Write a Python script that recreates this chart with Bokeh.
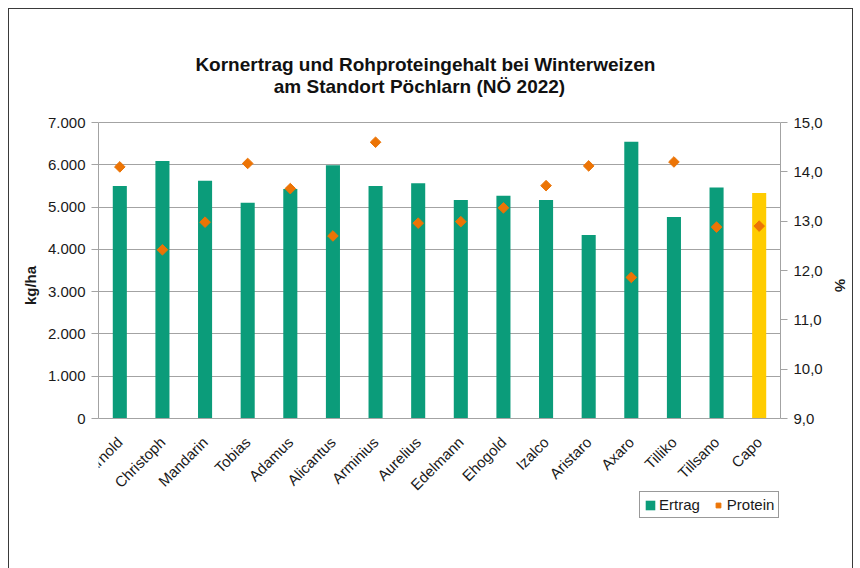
import numpy as np
from bokeh.plotting import figure
from bokeh.models import (ColumnDataSource, Range1d, LinearAxis, FixedTicker,
                          Legend, LegendItem, FactorRange, Label)
from bokeh.embed import file_html
from bokeh.resources import INLINE

# ---- data -------------------------------------------------------------
sorten = ["Arnold", "Christoph", "Mandarin", "Tobias", "Adamus", "Alicantus",
          "Arminius", "Aurelius", "Edelmann", "Ehogold", "Izalco", "Aristaro",
          "Axaro", "Tilliko", "Tillsano", "Capo"]
ertrag = [5500, 6090, 5625, 5100, 5430, 5990, 5500, 5565, 5165, 5265, 5165,
          4340, 6545, 4765, 5460, 5335]
protein = [14.10, 12.42, 12.98, 14.17, 13.66, 12.70, 14.60, 12.96, 12.99,
           13.27, 13.72, 14.12, 11.86, 14.20, 12.88, 12.90]
bar_colors = ["#0B9C7A"] * 15 + ["#FFCC00"]

left_ticks = [0, 1000, 2000, 3000, 4000, 5000, 6000, 7000]
left_labels = ["0", "1.000", "2.000", "3.000", "4.000", "5.000", "6.000", "7.000"]
right_ticks = [9, 10, 11, 12, 13, 14, 15]
right_labels = ["9,0", "10,0", "11,0", "12,0", "13,0", "14,0", "15,0"]

title1 = "Kornertrag und Rohproteingehalt bei Winterweizen"
title2 = "am Standort Pöchlarn (NÖ 2022)"

FONT = "Liberation Sans"
TXT = "#1a1a1a"
GRID = "#a3a3a3"

# ---- layout (pixels) ---------------------------------------------------
PLOT_H = 296      # height of the value area (0 .. 7000)
PAD_TOP = 82      # room above the value area (title)
PAD_BOT = 112     # room below the value area (category labels, legend)
FRAME_W = 682

L0, L1 = left_ticks[0], left_ticks[-1]
R0, R1 = right_ticks[0], right_ticks[-1]
lpp = (L1 - L0) / PLOT_H          # left units per pixel
rpp = (R1 - R0) / PLOT_H          # right units per pixel


def y_at(px_above_top):
    """left-axis value at a given pixel distance above the 7.000 line"""
    return L1 + px_above_top * lpp


src = ColumnDataSource(dict(sorte=sorten, ertrag=ertrag, protein=protein,
                            color=bar_colors))

p = figure(width=843, height=559, frame_width=FRAME_W,
           frame_height=PLOT_H + PAD_TOP + PAD_BOT,
           output_backend="svg", toolbar_location=None,
           x_range=FactorRange(factors=sorten),
           y_range=Range1d(L0 - PAD_BOT * lpp, L1 + PAD_TOP * lpp),
           min_border_left=89, min_border_right=72,
           min_border_top=31, min_border_bottom=38,
           outline_line_color=None)
p.styles = {"border": "1px solid #3a3a3a", "margin-left": "8px",
            "margin-top": "8px"}
p.extra_y_ranges = {"prot": Range1d(R0 - PAD_BOT * rpp, R1 + PAD_TOP * rpp)}

bars = p.vbar(x="sorte", top="ertrag", width=0.33, color="color",
              line_color=None, source=src)
pts = p.scatter(x="sorte", y="protein", y_range_name="prot", marker="square",
                angle=np.pi / 4, size=7.5, color="#EC7405", source=src)

# grid
p.xgrid.grid_line_color = None
p.ygrid.ticker = FixedTicker(ticks=left_ticks)
p.ygrid.grid_line_color = GRID

# left axis
ya = p.yaxis[0]
ya.ticker = FixedTicker(ticks=left_ticks)
ya.bounds = (L0, L1)
ya.major_label_overrides = {t: l for t, l in zip(left_ticks, left_labels)}
ya.axis_label = "kg/ha"

# right axis
ra = LinearAxis(y_range_name="prot", ticker=FixedTicker(ticks=right_ticks),
                axis_label="%", bounds=(R0, R1))
ra.major_label_overrides = {t: l for t, l in zip(right_ticks, right_labels)}
p.add_layout(ra, "right")

for ax in (ya, ra):
    ax.axis_line_color = GRID
    ax.major_tick_line_color = GRID
    ax.major_tick_out = 7
    ax.major_tick_in = 0
    ax.minor_tick_line_color = None
    ax.major_label_standoff = 6
    ax.major_label_text_font = FONT
    ax.major_label_text_font_size = "15px"
    ax.major_label_text_color = TXT
    ax.axis_label_text_font = FONT
    ax.axis_label_text_font_size = "15px"
    ax.axis_label_text_font_style = "bold"
    ax.axis_label_text_color = TXT
    ax.axis_label_standoff = 6

# category axis sits on the 0 line
xa = p.xaxis[0]
xa.fixed_location = L0
xa.axis_line_color = GRID
xa.major_tick_line_color = None
xa.minor_tick_line_color = None
xa.major_label_orientation = np.pi / 4
xa.major_label_standoff = 15
xa.major_label_text_font = FONT
xa.major_label_text_font_size = "15px"
xa.major_label_text_color = TXT

# title, two lines
for txt, xc, dy in ((title1, 7.67, 58.5), (title2, 7.53, 36.5)):
    p.add_layout(Label(x=xc, y=y_at(dy), text=txt, text_align="center",
                       text_baseline="middle", text_font=FONT,
                       text_font_size="19px", text_font_style="bold",
                       text_color="#111111"))

# legend below the category labels, right aligned
legend = Legend(items=[LegendItem(label="Ertrag", renderers=[bars], index=0),
                       LegendItem(label="Protein", renderers=[pts])],
                orientation="horizontal", location=(541, 12),
                border_line_color="#333333", border_line_width=1,
                label_text_font=FONT, label_text_font_size="15px",
                label_text_color=TXT, glyph_width=12, glyph_height=12,
                label_standoff=3, spacing=12, padding=4, margin=0,
                background_fill_color="white", background_fill_alpha=1)
p.add_layout(legend)

open("out.html", "w").write(file_html(p, INLINE))
